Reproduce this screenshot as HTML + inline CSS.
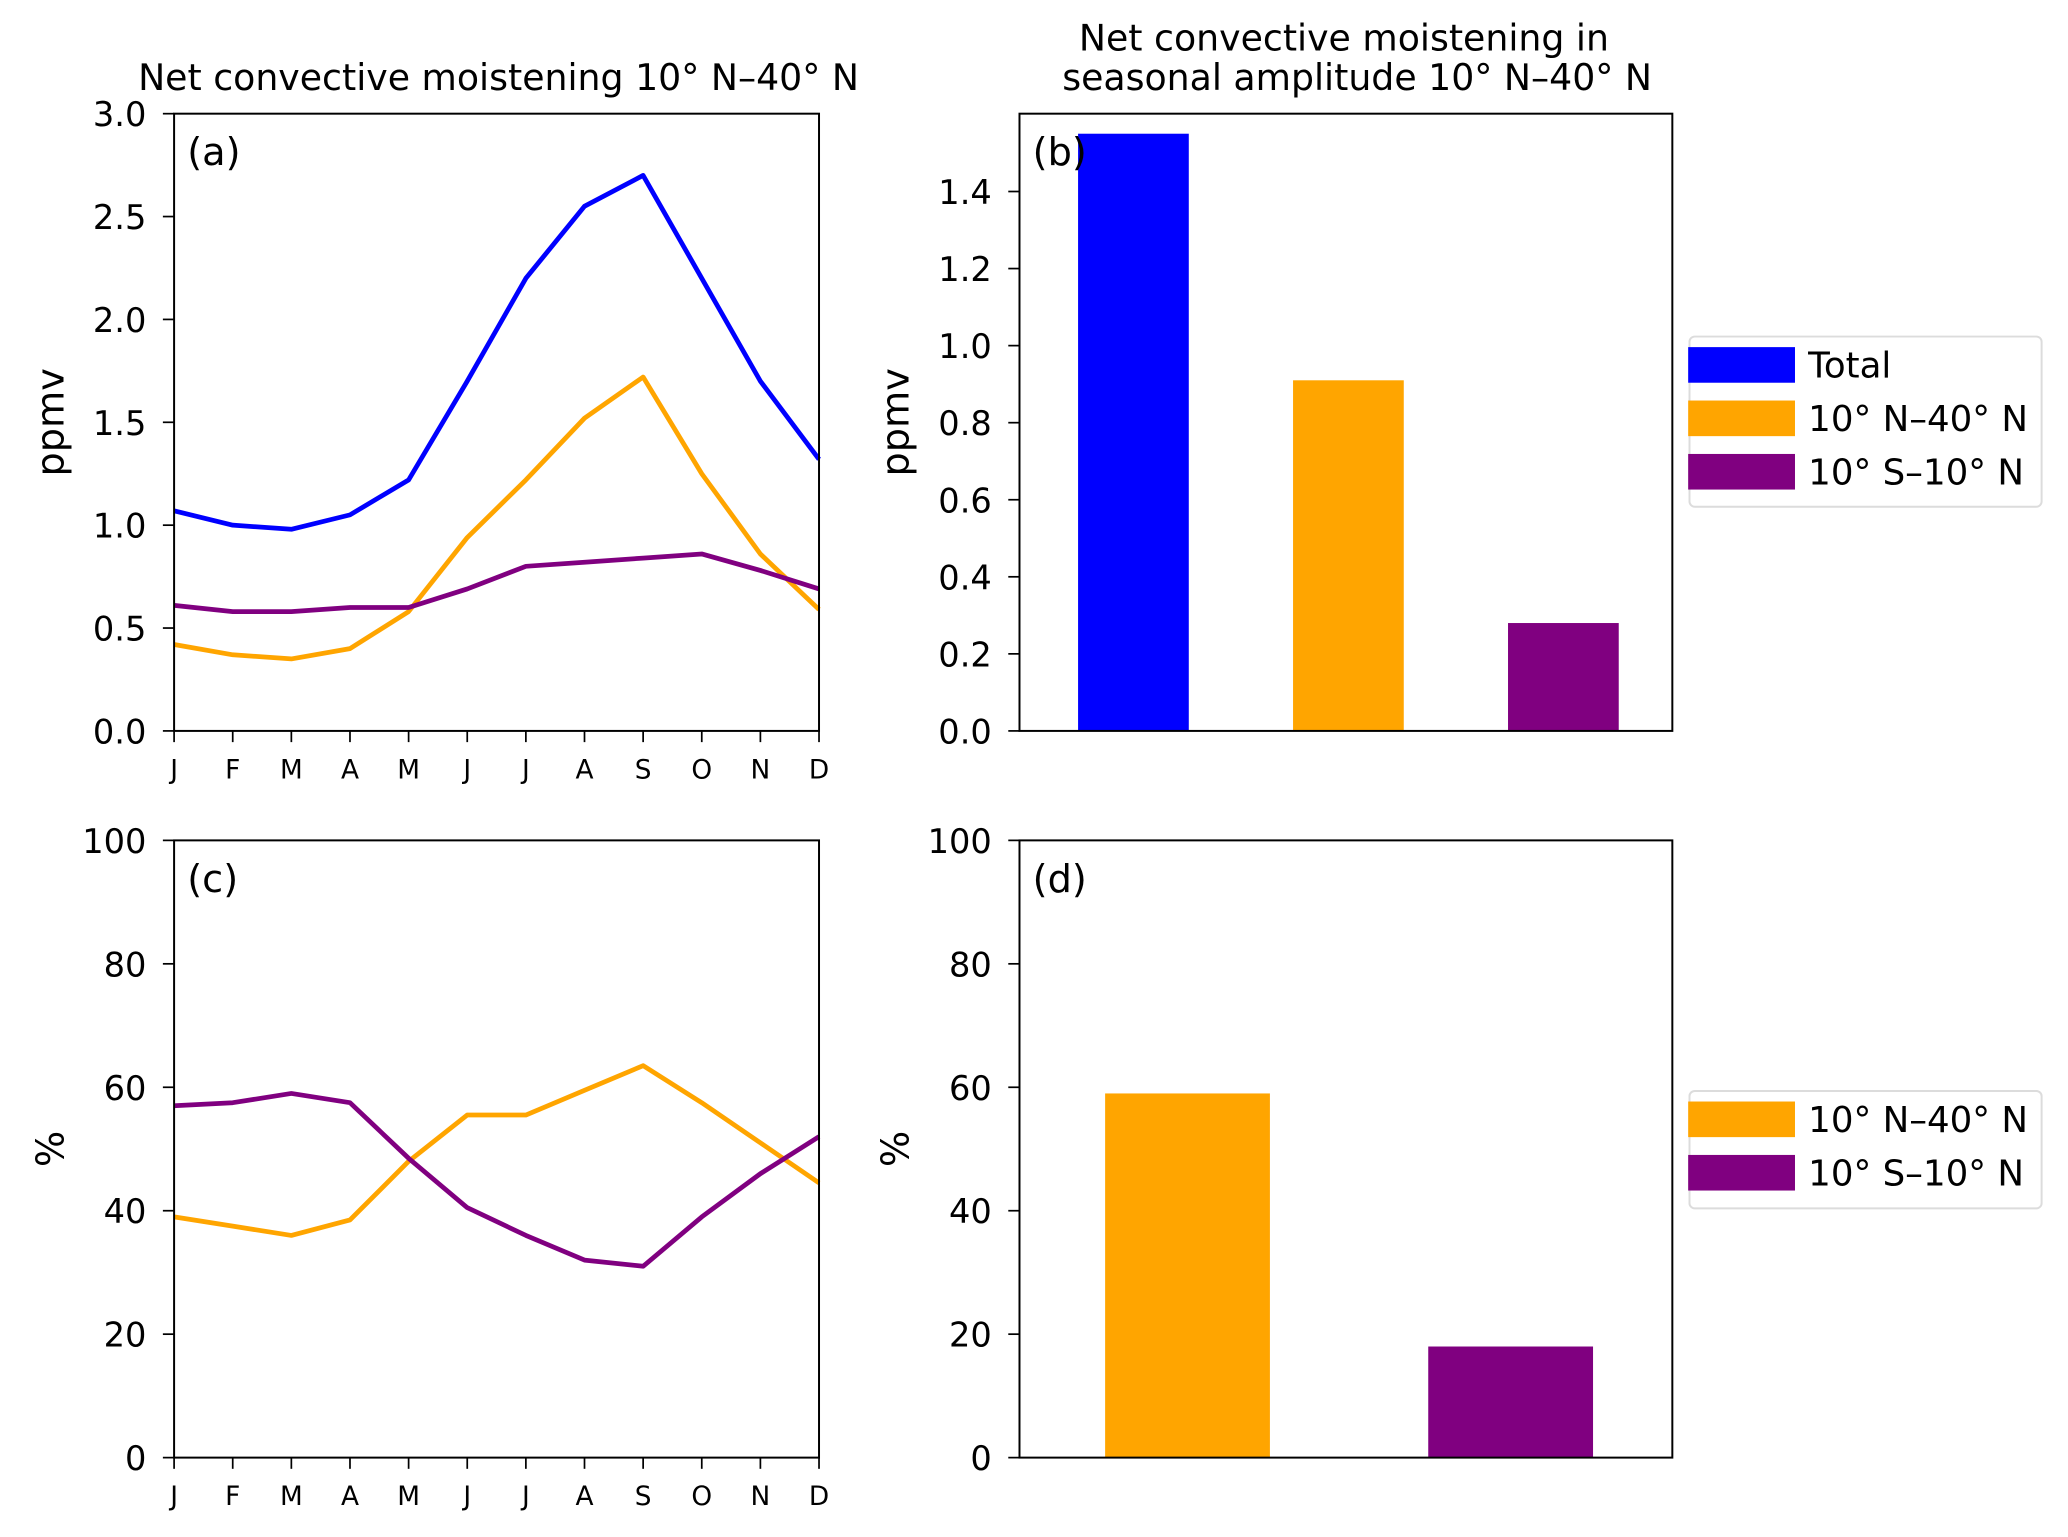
<!DOCTYPE html>
<html><head><meta charset="utf-8"><style>
html,body{margin:0;padding:0;background:#fff;}
svg{display:block;font-family:"DejaVu Sans","Liberation Sans",sans-serif;}
</style></head><body>
<svg id="fig" width="2068" height="1537" viewBox="0 0 1568 1165" xmlns="http://www.w3.org/2000/svg"></svg>
<script>
const months = ["J","F","M","A","M","J","J","A","S","O","N","D"];
const aTotal = [1.07,1.0,0.98,1.05,1.22,1.7,2.2,2.55,2.7,2.2,1.7,1.32];
const aNorth = [0.42,0.37,0.35,0.40,0.58,0.94,1.22,1.52,1.72,1.25,0.86,0.59];
const aTrop  = [0.61,0.58,0.58,0.60,0.60,0.69,0.80,0.82,0.84,0.86,0.78,0.69];
const aTicks = ["0.0","0.5","1.0","1.5","2.0","2.5","3.0"];
const bValues = [1.55,0.91,0.28];
const bTicks = ["0.0","0.2","0.4","0.6","0.8","1.0","1.2","1.4"];
const cNorth = [39,37.5,36,38.5,48,55.5,55.5,59.5,63.5,57.5,51,44.5];
const cTrop  = [57,57.5,59,57.5,48.5,40.5,36,32,31,39,46,52];
const pctTicks = ["0","20","40","60","80","100"];
const dValues = [59,18];
const legendB = ["Total","10° N–40° N","10° S–10° N"];
const legendD = ["10° N–40° N","10° S–10° N"];

const NS="http://www.w3.org/2000/svg";
const svg=document.getElementById('fig');
function mk(tag,attrs,parent){const e=document.createElementNS(NS,tag);for(const k in attrs)e.setAttribute(k,attrs[k]);(parent||svg).appendChild(e);return e;}
function txt(s,attrs,parent){const e=mk('text',attrs,parent);e.textContent=s;return e;}
const BLUE="#0000ff",ORANGE="#ffa500",PURPLE="#800080";

function axes(name,x0,x1,y0,y1,ymin,ymax,ticks,label){
  const g=mk('g',{});
  
  
  const ys=v=>y1-(v-ymin)/(ymax-ymin)*(y1-y0);
  ticks.forEach(t=>{const v=parseFloat(t);const y=ys(v);
    mk('line',{x1:x0-8.5,x2:x0,y1:y,y2:y,stroke:'#000','stroke-width':1.3},g);
    const tl=txt(t,{x:x0-21,y:y+9.5,'text-anchor':'end','font-size':25.5},g);
    
    
  });
  const yl=txt(label,{transform:`translate(${x0-84},${(y0+y1)/2}) rotate(-90)`,'text-anchor':'middle','font-size':29},g);
  
  
  return {g,ys};
}
function frame(g,x0,x1,y0,y1,tag){
  mk('rect',{x:x0,y:y0,width:x1-x0,height:y1-y0,fill:'none',stroke:'#000','stroke-width':1.5},g);
  const t=txt(tag,{x:x0+10,y:y0+39,'font-size':29},g);
  
  
}
function monthAxis(g,x0,x1,y1){
  const xs=i=>x0+i*(x1-x0)/11;
  months.forEach((m,i)=>{
    mk('line',{x1:xs(i),x2:xs(i),y1:y1,y2:y1+8.5,stroke:'#000','stroke-width':1.3},g);
    const t=txt(m,{x:xs(i),y:y1+36,'text-anchor':'middle','font-size':20},g);
    
    
  });
  return xs;
}
function line(g,xs,ys,vals,color,name){
  const p=mk('polyline',{points:vals.map((v,i)=>xs(i)+','+ys(v)).join(' '),fill:'none',stroke:color,'stroke-width':3.6,'stroke-linejoin':'round'},g);
  
  
}
function legend(items,colors,x,y,h){
  const g=mk('g',{});
  
  
  mk('rect',{x:x,y:y,width:267,height:h,rx:4,fill:'#fff',stroke:'#dcdcdc','stroke-width':1.5},g);
  items.forEach((s,i)=>{
    const e=mk('g',{},g);
    
    
    mk('rect',{x:x-1,y:y+8+i*40.5,width:81,height:27,fill:colors[i]},e);
    txt(s,{x:x+90,y:y+31+i*40.5,'font-size':27},e);
  });
}

// Titles
let t=txt("Net convective moistening 10° N–40° N",{x:378,y:68,'text-anchor':'middle','font-size':27.5});

t=txt("Net convective moistening in",{x:1019,y:38,'text-anchor':'middle','font-size':27.5});

t=txt("seasonal amplitude 10° N–40° N",{x:1029,y:68,'text-anchor':'middle','font-size':27.5});


// Panel a
let A=axes('panel-a',132,621,86,554,0,3,aTicks,'ppmv');
let xs=monthAxis(A.g,132,621,554);
line(A.g,xs,A.ys,aTotal,BLUE,'line-total');
line(A.g,xs,A.ys,aNorth,ORANGE,'line-10n-40n');
line(A.g,xs,A.ys,aTrop,PURPLE,'line-10s-10n');
frame(A.g,132,621,86,554,'(a)');

// Panel b
let B=axes('panel-b',773,1268,86,554,0,1.602,bTicks,'ppmv');
const bc=[BLUE,ORANGE,PURPLE];
const bx=i=>773+(i+0.53)*163;
bValues.forEach((v,i)=>{
  const w=163*0.515;
  const r=mk('rect',{x:bx(i)-w/2,y:B.ys(v),width:w,height:554-B.ys(v),fill:bc[i]},B.g);
  
  
});
frame(B.g,773,1268,86,554,'(b)');
legend(legendB,bc,1281,255,129);

// Panel c
let C=axes('panel-c',132,621,637,1105,0,100,pctTicks,'%');
xs=monthAxis(C.g,132,621,1105);
line(C.g,xs,C.ys,cNorth,ORANGE,'line-10n-40n-pct');
line(C.g,xs,C.ys,cTrop,PURPLE,'line-10s-10n-pct');
frame(C.g,132,621,637,1105,'(c)');

// Panel d
let D=axes('panel-d',773,1268,637,1105,0,100,pctTicks,'%');
const dc=[ORANGE,PURPLE];
const dx=i=>773+(i+0.52)*245;
dValues.forEach((v,i)=>{
  const w=245*0.51;
  const r=mk('rect',{x:dx(i)-w/2,y:D.ys(v),width:w,height:1105-D.ys(v),fill:dc[i]},D.g);
  
  
});
frame(D.g,773,1268,637,1105,'(d)');
legend(legendD,dc,1281,827,89);
</script>
</body></html>
